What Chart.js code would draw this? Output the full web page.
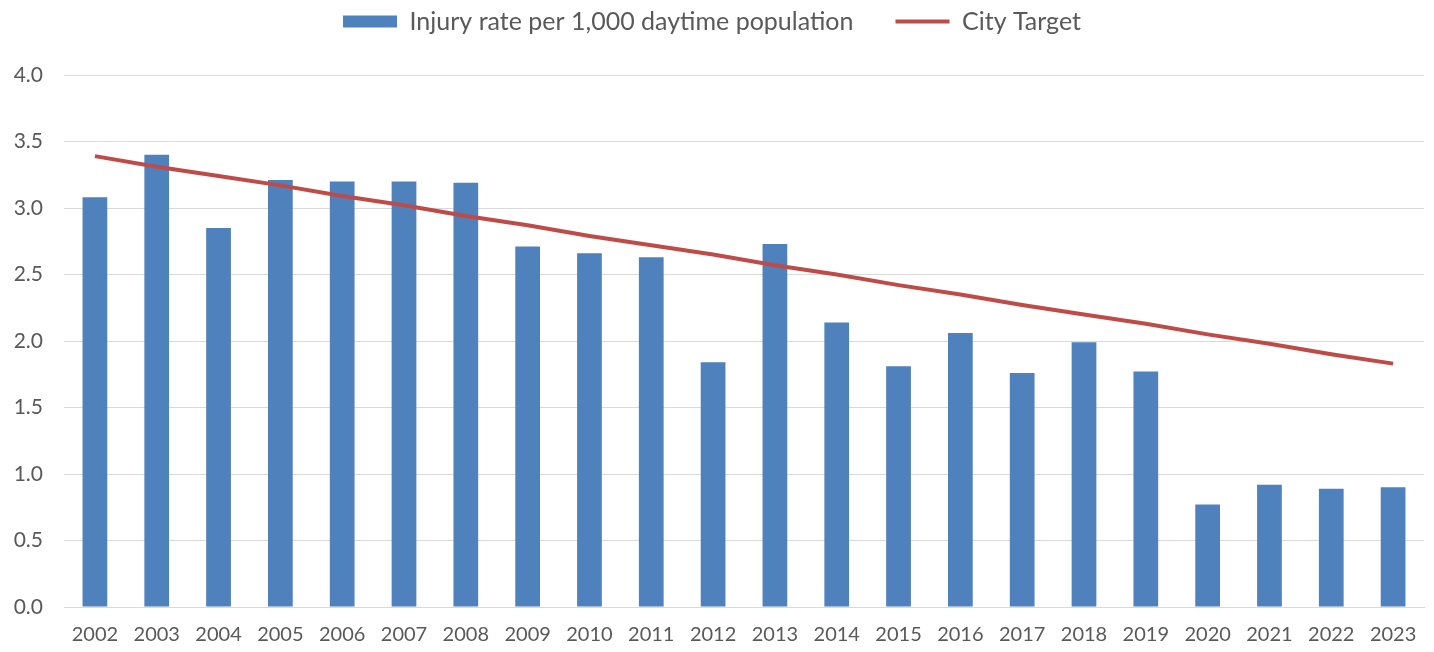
<!DOCTYPE html>
<html>
<head>
<meta charset="utf-8">
<script src="https://cdn.jsdelivr.net/npm/chart.js@4.4.1/dist/chart.umd.min.js"></script>
<style>
html,body{margin:0;padding:0;background:#fff;}
#wrap{width:1434px;height:652px;position:relative;}
</style>
</head>
<body>
<div id="wrap"><canvas id="c" width="1434" height="652"></canvas></div>
<script>
const years = ['2002','2003','2004','2005','2006','2007','2008','2009','2010','2011','2012','2013','2014','2015','2016','2017','2018','2019','2020','2021','2022','2023'];
const injuryRate = [3.08,3.40,2.85,3.21,3.20,3.20,3.19,2.71,2.66,2.63,1.84,2.73,2.14,1.81,2.06,1.76,1.99,1.77,0.77,0.92,0.89,0.90];
const cityTarget = [3.39,3.31,3.24,3.17,3.09,3.02,2.94,2.87,2.79,2.72,2.65,2.57,2.50,2.42,2.35,2.27,2.20,2.13,2.05,1.98,1.90,1.83];
const yTicks = [0,0.5,1.0,1.5,2.0,2.5,3.0,3.5,4.0];

const FONT = 'Lato, "Noto Sans", sans-serif';
const TXT = '#595959';

new Chart(document.getElementById('c'), {
  data: {
    labels: years,
    datasets: [
      {
        type: 'bar',
        label: 'Injury rate per 1,000 daytime population',
        data: injuryRate,
        backgroundColor: '#4F81BD',
        borderWidth: 0,
        barPercentage: 0.8,
        categoryPercentage: 0.5,
        order: 2
      },
      {
        type: 'line',
        label: 'City Target',
        data: cityTarget,
        borderColor: '#BE4B48',
        backgroundColor: '#BE4B48',
        borderWidth: 4,
        pointRadius: 0,
        tension: 0,
        order: 1
      }
    ]
  },
  options: {
    responsive: false,
    animation: false,
    layout: { padding: { left: 0, right: 10, top: -33, bottom: 0 } },
    plugins: {
      tooltip: { enabled: false },
      title: {
        display: true,
        text: '',
        weight: 500,
        font: { size: 1, lineHeight: 1 },
        padding: { top: 0, bottom: 30 }
      },
      legend: {
        position: 'top',
        labels: {
          font: { family: FONT, size: 25 },
          color: TXT,
          usePointStyle: true,
          pointStyleWidth: 54,
          boxHeight: 12,
          padding: 42,
          sort: (a, b) => a.datasetIndex - b.datasetIndex,
          generateLabels: (chart) => chart.data.datasets.map((ds, i) => ({
            text: ds.label,
            fillStyle: ds.type === 'bar' ? ds.backgroundColor : ds.borderColor,
            strokeStyle: ds.type === 'bar' ? ds.backgroundColor : ds.borderColor,
            lineWidth: ds.type === 'bar' ? 0 : 4,
            pointStyle: ds.type === 'bar' ? 'rect' : 'line',
            datasetIndex: i,
            fontColor: TXT,
            hidden: false
          }))
        }
      }
    },
    scales: {
      x: {
        grid: { display: false, drawTicks: false },
        border: { display: true, color: '#d9d9d9', width: 1 },
        ticks: { font: { family: FONT, size: 20 }, color: TXT, padding: 16, maxRotation: 0, autoSkip: false },
        afterFit: (s) => { s.height = 45; }
      },
      y: {
        min: 0,
        max: 4,
        afterBuildTicks: (s) => { s.ticks = yTicks.map(v => ({ value: v })); },
        grid: { color: '#d9d9d9', lineWidth: 1, drawTicks: false },
        border: { display: false },
        ticks: {
          font: { family: FONT, size: 21 },
          color: TXT,
          padding: 21,
          callback: (v) => Number(v).toFixed(1)
        },
        afterFit: (s) => { s.width = 64; }
      }
    }
  }
});
</script>
</body>
</html>
